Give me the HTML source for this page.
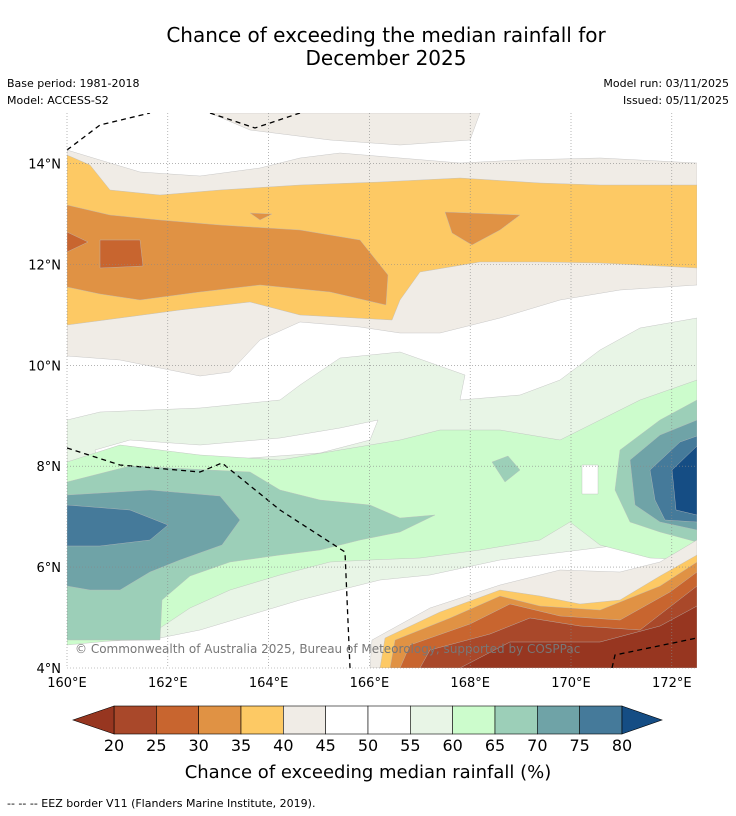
<!DOCTYPE html>
<html><head><meta charset="utf-8"><style>
body{margin:0;background:#fff;width:736px;height:816px;overflow:hidden;font-family:"DejaVu Sans","Liberation Sans",sans-serif}
svg{display:block}
</style></head><body>
<svg id="s" width="736" height="816" xmlns="http://www.w3.org/2000/svg">
<text x="386" y="42" font-size="20" text-anchor="middle">Chance of exceeding the median rainfall for</text>
<text x="386" y="65" font-size="20" text-anchor="middle">December 2025</text>
<text x="7" y="87" font-size="11">Base period: 1981-2018</text>
<text x="7" y="104" font-size="11">Model: ACCESS-S2</text>
<text x="729" y="87" font-size="11" text-anchor="end">Model run: 03/11/2025</text>
<text x="729" y="104" font-size="11" text-anchor="end">Issued: 05/11/2025</text>
<defs><clipPath id="mc"><rect x="67" y="113" width="630" height="555"/></clipPath></defs>
<g id="map" clip-path="url(#mc)"><rect x="67" y="113" width="630" height="555" fill="#fff"/></g>
<g id="grid"></g>
<g id="axes"></g>
<g id="cbar"></g>
<text x="368" y="778" font-size="18" text-anchor="middle">Chance of exceeding median rainfall (%)</text>
<text x="7" y="807" font-size="11">--  --  -- EEZ border V11 (Flanders Marine Institute, 2019).</text>
</svg>
<script>
const levels=[20,25,30,35,40,45,50,55,60,65,70,75,80];
const binColors=["#a9482a","#c8652f","#e09244","#fdc964","#f0ece6","#ffffff","#ffffff","#e8f5e6","#ccfccc","#9ccfb8","#6fa3a7","#457a9a"];
const lowColor="#973620", highColor="#154d84";
const lonTicks=[160,162,164,166,168,170,172];
const latTicks=[4,6,8,10,12,14];
const NS="http://www.w3.org/2000/svg";
const X0=67,X1=697,Y0=113,Y1=668;
function xLon(l){return X0+(l-160)*(X1-X0)/12.5}
function yLat(l){return Y1-(l-4)*(Y1-Y0)/11}
function mk(t,a,p){const e=document.createElementNS(NS,t);for(const k in a)e.setAttribute(k,a[k]);p.appendChild(e);return e}
const regions=[
[4,"67,150 100,160 140,172 200,176 260,168 300,158 340,153 400,158 460,163 520,160 600,158 697,163 697,285 620,290 560,300 500,318 440,333 400,333 360,327 300,322 260,340 230,372 200,376 120,360 67,356"],
[4,"210,113 480,113 470,140 400,145 330,140 250,130"],
[3,"67,155 90,165 110,190 160,195 220,190 300,185 380,182 460,178 540,183 600,185 697,185 697,268 600,263 540,262 480,262 420,272 400,300 392,320 300,315 250,302 180,310 120,318 67,325"],
[2,"67,205 110,215 160,220 220,225 300,230 360,240 388,275 386,305 330,292 260,285 200,292 140,300 100,294 67,287"],
[2,"445,212 520,215 500,230 472,245 452,233"],
[2,"250,213 272,214 260,220"],
[1,"100,240 140,240 143,266 100,268"],
[1,"67,232 88,242 67,252"],
[7,"67,420 100,412 200,408 280,400 300,385 340,358 400,352 465,375 460,400 520,395 560,380 600,350 640,328 697,318 697,560 660,555 620,545 580,550 500,560 430,575 380,580 340,590 300,600 250,615 200,630 150,640 67,642"],
[5,"95,450 130,440 200,445 280,438 340,428 378,420 370,440 320,453 250,458 200,466 150,468 100,468"],
[8,"67,462 120,445 200,455 280,460 340,450 400,440 440,430 500,430 560,440 600,420 640,400 697,380 697,560 650,558 600,545 570,522 540,540 480,550 420,558 370,560 330,562 280,575 230,590 190,608 160,628 120,640 67,645"],
[5,"582,465 598,465 598,494 582,494"],
[9,"67,482 130,466 210,470 250,472 280,490 320,500 370,505 400,518 435,515 400,532 360,540 320,550 280,555 230,562 190,576 162,600 160,640 120,640 67,640"],
[9,"620,450 660,420 697,400 697,542 660,532 630,522 615,490"],
[9,"492,462 508,456 520,470 505,482"],
[10,"67,495 150,490 220,496 240,520 222,545 180,560 150,572 120,590 90,590 67,586"],
[10,"630,460 660,435 697,420 697,530 660,522 635,505"],
[11,"67,505 130,510 168,525 150,540 100,546 67,546"],
[11,"650,470 680,442 697,436 697,522 665,520 655,500"],
[12,"672,470 697,446 697,515 676,510"],
[4,"370,668 372,640 430,608 500,585 560,570 620,572 660,562 697,540 697,668"],
[3,"380,668 385,638 440,612 500,590 540,596 580,604 620,600 660,576 697,555 697,668"],
[2,"390,668 395,640 450,618 500,596 540,606 600,610 660,586 697,562 697,668"],
[1,"400,668 410,645 470,624 510,604 560,616 620,620 670,592 697,572 697,668"],
[0,"420,668 430,650 490,634 530,618 580,626 640,630 697,586 697,668"],
[-1,"460,668 510,642 600,642 660,626 697,606 697,668"]
];
const map=document.getElementById('map');
regions.forEach((r,i)=>{
 const p=mk('polygon',{points:r[1],fill:r[0]<0?lowColor:(r[0]>=12?highColor:binColors[r[0]]),stroke:"#bbb","stroke-width":0.4},map);
 
 
});
const eez=[["67,448 120,465 200,472 222,463 280,510 345,552 350,668"],["67,150 100,125 150,113"],["210,113 255,128 300,113"],["612,668 615,655 697,638"]];
eez.forEach((e,i)=>{const l=mk('polyline',{points:e[0],fill:"none",stroke:"#000","stroke-width":1.3,"stroke-dasharray":"5,4"},map);

});
const t=mk('text',{x:75,y:653,"font-size":12,fill:"#777"},map);t.textContent="© Commonwealth of Australia 2025, Bureau of Meteorology, supported by COSPPac";


const grid=document.getElementById('grid'),axes=document.getElementById('axes');
lonTicks.forEach(v=>{const x=xLon(v);
 const g=mk('line',{x1:x,x2:x,y1:Y0,y2:Y1,stroke:"#888","stroke-width":0.6,"stroke-dasharray":"1,2"},grid);
 
 
 const tx=mk('text',{x:x,y:687,"font-size":13,"text-anchor":"middle"},axes);tx.textContent=v+"°E";
 
 });
latTicks.forEach(v=>{const y=yLat(v);
 const g=mk('line',{x1:X0,x2:X1,y1:y,y2:y,stroke:"#888","stroke-width":0.6,"stroke-dasharray":"1,2"},grid);
 
 
 const tx=mk('text',{x:61,y:y+5,"font-size":13,"text-anchor":"end"},axes);tx.textContent=v+"°N";
 
 });
const cb=document.getElementById('cbar');const CX0=114,CX1=622,CY=706,CH=28;const w=(CX1-CX0)/binColors.length;
binColors.forEach((c,i)=>{const r=mk('rect',{x:CX0+i*w,y:CY,width:w,height:CH,fill:c,stroke:"#000","stroke-width":0.6},cb);
 
 });
const lt=mk('polygon',{points:`${CX0},${CY} ${CX0},${CY+CH} 73,${CY+CH/2}`,fill:lowColor,stroke:"#000","stroke-width":0.6},cb);


const ht=mk('polygon',{points:`${CX1},${CY} ${CX1},${CY+CH} 662,${CY+CH/2}`,fill:highColor,stroke:"#000","stroke-width":0.6},cb);


levels.forEach((v,i)=>{const tx=mk('text',{x:CX0+i*w,y:751,"font-size":16,"text-anchor":"middle"},cb);tx.textContent=v;
 
 });
</script>
</body></html>
